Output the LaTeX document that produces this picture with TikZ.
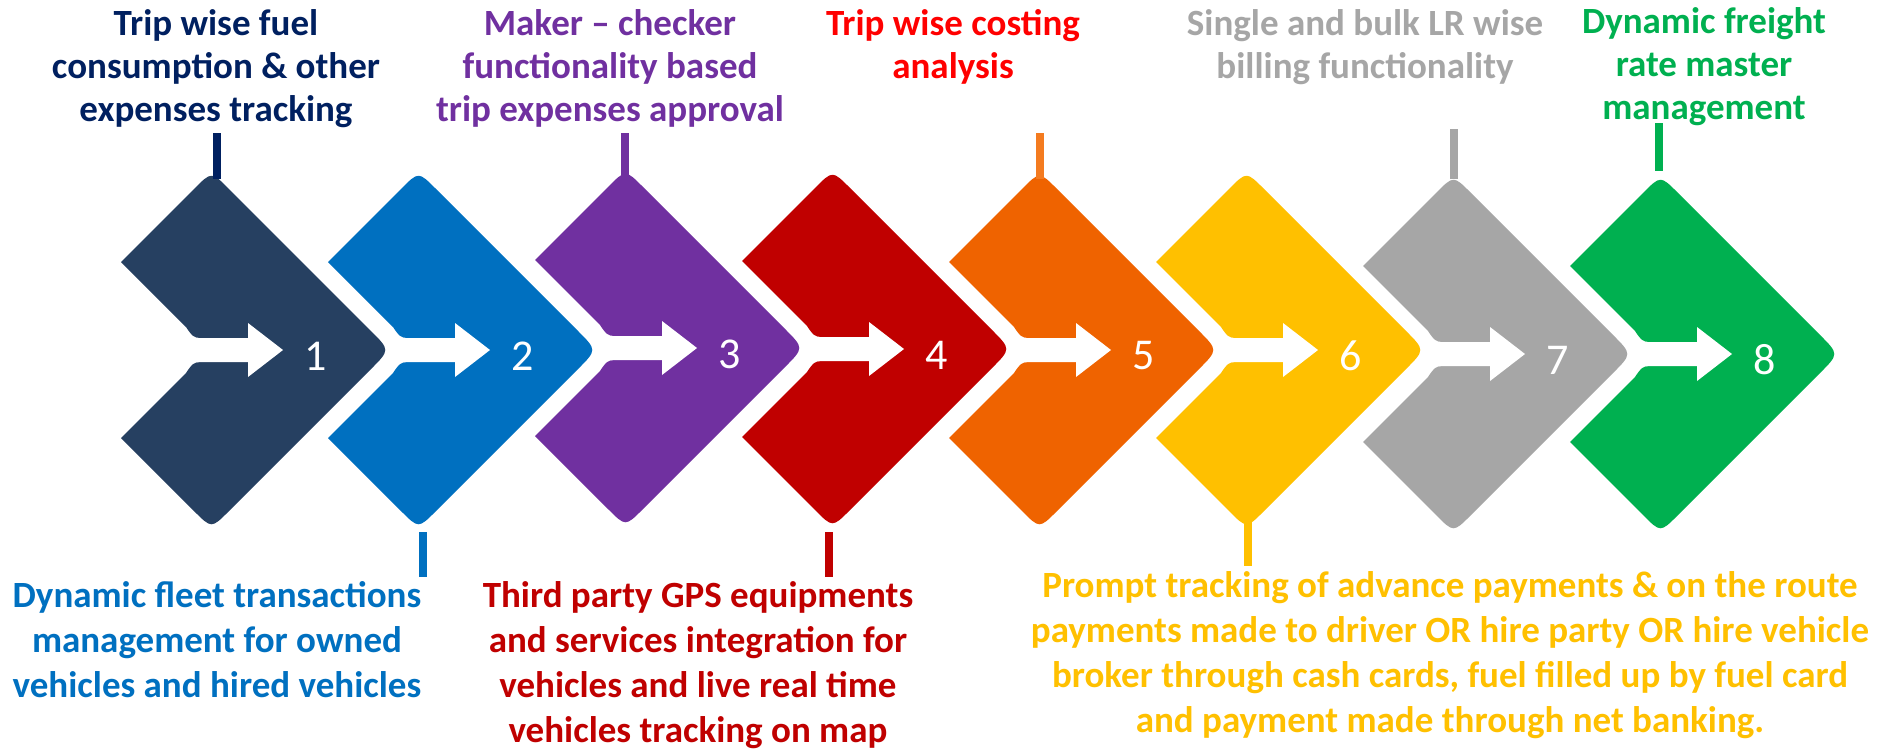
\documentclass[tikz,border=0pt]{standalone}
\usepackage{fontspec}
\setmainfont{Carlito}
\definecolor{c1}{HTML}{264061}
\definecolor{c2}{HTML}{0070C0}
\definecolor{c3}{HTML}{7030A0}
\definecolor{c4}{HTML}{C00000}
\definecolor{c5}{HTML}{EF6300}
\definecolor{c6}{HTML}{FFC000}
\definecolor{c7}{HTML}{A6A6A6}
\definecolor{c8}{HTML}{00B050}
\definecolor{navy}{HTML}{002060}
\definecolor{tred}{HTML}{FF0000}
\definecolor{oline}{HTML}{F47B20}
\tikzset{
  toplab/.style={font=\bfseries\fontsize{37}{43}\selectfont, align=center, inner sep=0pt, anchor=north},
  botlab/.style={font=\bfseries\fontsize{37}{45}\selectfont, align=center, inner sep=0pt, anchor=north},
  numlab/.style={font=\fontsize{44}{44}\selectfont, text=white, inner sep=0pt},
  conn/.style={line width=8pt}
}
\newcommand{\mychev}[5]{%
  \begin{scope}[shift={(#2,#3)}]
    \fill[#4] (0,-88) -- (65,-23) .. controls (71,-14) and (73,-12) .. (80,-12) -- (80,12)
      .. controls (73,12) and (71,14) .. (65,23) -- (0,88) -- (73.5,161.5)
      .. controls (90.5,178.5) .. (107.5,161.5) -- (250,19) .. controls (269,0) .. (250,-19)
      -- (107.5,-161.5) .. controls (90.5,-178.5) .. (73.5,-161.5) -- cycle;
    \fill[white] (70,-12) -- (127,-12) -- (127,-27) -- (162,0) -- (127,27) -- (127,12) -- (70,12) -- cycle;
    \node[numlab] (#1) at (195,6) {#5};
  \end{scope}}
\begin{document}
\begin{tikzpicture}[x=1pt,y=-1pt]
\useasboundingbox[fill=white] (0,0) rectangle (1881,750);
% chevrons
\mychev{n1}{121}{350}{c1}{1}
\mychev{n2}{328}{350}{c2}{2}
\mychev{n3}{535}{348}{c3}{3}
\mychev{n4}{742}{349}{c4}{4}
\mychev{n5}{949}{350}{c5}{5}
\mychev{n6}{1156}{350}{c6}{6}
\mychev{n7}{1363}{354}{c7}{7}
\mychev{n8}{1570}{354}{c8}{8}
% top labels
\node[toplab, text=navy] (t1) at (216,5) {\rule{0pt}{30pt}Trip wise fuel\\consumption \& other\\expenses tracking};
\node[toplab, text=c3] (t3) at (610,5) {\rule{0pt}{30pt}Maker – checker\\functionality based\\trip expenses approval};
\node[toplab, text=tred] (t5) at (953,5) {\rule{0pt}{30pt}Trip wise costing\\analysis};
\node[toplab, text=c7] (t7) at (1365,5) {\rule{0pt}{30pt}Single and bulk LR wise\\billing functionality};
\node[toplab, text=c8] (t8) at (1704,3) {\rule{0pt}{30pt}Dynamic freight\\rate master\\management};
% bottom labels
\node[botlab, text=c2] (b2) at (217,577) {\rule{0pt}{30pt}Dynamic fleet transactions\\management for owned\\vehicles and hired vehicles};
\node[botlab, text=c4] (b4) at (698,577) {\rule{0pt}{30pt}Third party GPS equipments\\and services integration for\\vehicles and live real time\\vehicles tracking on map};
\node[botlab, text=c6] (b6) at (1450,567) {\rule{0pt}{30pt}Prompt tracking of advance payments \& on the route\\payments made to driver OR hire party OR hire vehicle\\broker through cash cards, fuel filled up by fuel card\\and payment made through net banking.};
% connector end points
\coordinate (k1a) at (217,133); \coordinate (k1b) at (217,179);
\coordinate (k3a) at (625,133); \coordinate (k3b) at (625,179);
\coordinate (k5a) at (1040,133); \coordinate (k5b) at (1040,179);
\coordinate (k7a) at (1454,129); \coordinate (k7b) at (1454,179);
\coordinate (k8a) at (1659,123); \coordinate (k8b) at (1659,171);
\coordinate (k2a) at (423,532); \coordinate (k2b) at (423,577);
\coordinate (k4a) at (829,532); \coordinate (k4b) at (829,577);
\coordinate (k6a) at (1248,520); \coordinate (k6b) at (1248,566);
\draw[conn, navy] (k1a) -- (k1b);
\draw[conn, c3] (k3a) -- (k3b);
\draw[conn, oline] (k5a) -- (k5b);
\draw[conn, c7] (k7a) -- (k7b);
\draw[conn, c8] (k8a) -- (k8b);
\draw[conn, c2] (k2a) -- (k2b);
\draw[conn, c4] (k4a) -- (k4b);
\draw[conn, c6] (k6a) -- (k6b);
\end{tikzpicture}
\end{document}
